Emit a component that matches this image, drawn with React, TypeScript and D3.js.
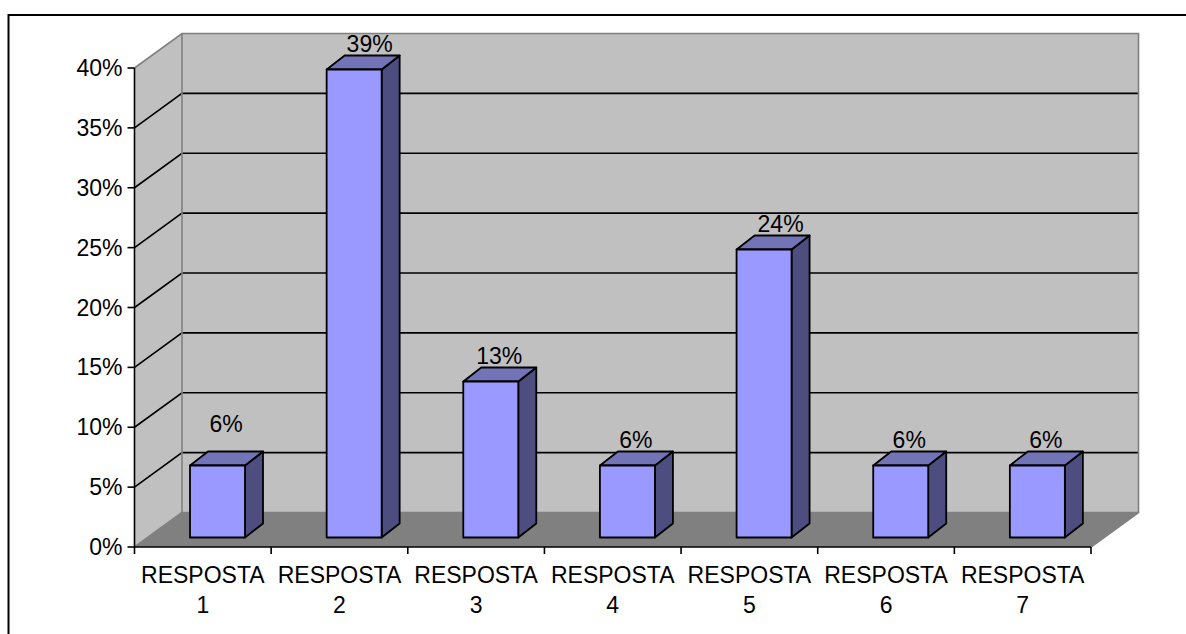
import React from "react";
import * as d3 from "d3";

const categories = ["RESPOSTA 1", "RESPOSTA 2", "RESPOSTA 3", "RESPOSTA 4", "RESPOSTA 5", "RESPOSTA 6", "RESPOSTA 7"];
const shares = [6, 39, 13, 6, 24, 6, 6];
const yTicks = [0, 5, 10, 15, 20, 25, 30, 35, 40];

const FONT = "'Liberation Sans', Arial, sans-serif";
const FONT_SIZE = 23;
const DEPTH_X = 47.5;
const DEPTH_Y = -34.5;
const BAR_DEPTH_X = 18;
const BAR_DEPTH_Y = -14;

const x = d3.scaleBand<string>().domain(categories).range([134.5, 1091]);
const y = d3.scaleLinear().domain([0, 40]).range([547, 68]);
const barH = d3.scaleLinear().domain([0, 40]).range([0, 480]);

const poly = (pts: [number, number][]) => d3.line()(pts) + "Z";

export default function App() {
  const x0 = x.range()[0];
  const x1 = x.range()[1];
  const yb = y(0);
  const yt = y(40);
  const step = x.step();
  const barW = 55;
  const barBase = 537.5;

  return (
    <svg width={1186} height={634} style={{ position: "absolute", left: 0, top: 0, background: "#fff" }} fontFamily={FONT}>
      {/* outer frame */}
      <path d={`M8.5,634V15H1186`} fill="none" stroke="#000" strokeWidth={2} />

      {/* side wall, back wall and floor */}
      <path d={poly([[x0, yb], [x0 + DEPTH_X, yb + DEPTH_Y], [x0 + DEPTH_X, yt + DEPTH_Y], [x0, yt]])} fill="#c0c0c0" />
      <path d={poly([[x0 + DEPTH_X, yb + DEPTH_Y], [x1 + DEPTH_X, yb + DEPTH_Y], [x1 + DEPTH_X, yt + DEPTH_Y], [x0 + DEPTH_X, yt + DEPTH_Y]])} fill="#c0c0c0" />
      <path d={poly([[x0, yb], [x1, yb], [x1 + DEPTH_X, yb + DEPTH_Y], [x0 + DEPTH_X, yb + DEPTH_Y]])} fill="#808080" />

      {/* gridlines */}
      {yTicks.slice(1, -1).map((t) => (
        <path key={t} d={`M${x0},${y(t)}L${x0 + DEPTH_X},${y(t) + DEPTH_Y}H${x1 + DEPTH_X}`} fill="none" stroke="#000" strokeWidth={1.6} />
      ))}

      {/* wall edges */}
      <path d={`M${x0},${yt}L${x0 + DEPTH_X},${yt + DEPTH_Y}H${x1 + DEPTH_X}V${yb + DEPTH_Y}L${x1},${yb}`} fill="none" stroke="#808080" strokeWidth={1.6} />
      <path d={`M${x0},${yb}L${x0 + DEPTH_X},${yb + DEPTH_Y}V${yt + DEPTH_Y}M${x0 + DEPTH_X},${yb + DEPTH_Y}H${x1 + DEPTH_X}`} fill="none" stroke="#808080" strokeWidth={1.6} />

      {/* axes */}
      <path d={`M${x0},${yt}V${yb}H${x1}`} fill="none" stroke="#000" strokeWidth={1.6} />
      {yTicks.map((t) => (
        <g key={t}>
          <line x1={x0 - 7} x2={x0} y1={y(t)} y2={y(t)} stroke="#000" strokeWidth={1.6} />
          <text x={x0 - 12} y={y(t) + 8} textAnchor="end" fontSize={FONT_SIZE} fill="#000">{t}%</text>
        </g>
      ))}
      {d3.range(categories.length + 1).map((i) => (
        <line key={i} x1={x0 + i * step} x2={x0 + i * step} y1={yb} y2={yb + 7} stroke="#000" strokeWidth={1.6} />
      ))}

      {/* bars */}
      {categories.map((c, i) => {
        const bx = (x(c) as number) + 55.5;
        const h = barH(shares[i]);
        const top = barBase - h;
        const dx = BAR_DEPTH_X;
        const dy = BAR_DEPTH_Y;
        return (
          <g key={c} stroke="#000" strokeWidth={1.8} strokeLinejoin="round">
            <path d={poly([[bx + barW, top], [bx + barW + dx, top + dy], [bx + barW + dx, barBase + dy], [bx + barW, barBase]])} fill="#4d4d80" />
            <path d={poly([[bx, top], [bx + dx, top + dy], [bx + barW + dx, top + dy], [bx + barW, top]])} fill="#7373b8" />
            <rect x={bx} y={top} width={barW} height={h} fill="#9999ff" />
          </g>
        );
      })}

      {/* value labels: the tallest bars have theirs pushed right, the first one sits higher */}
      {categories.map((c, i) => {
        const shift = shares[i] === 39 ? 7 : shares[i] === 24 ? 8 : 0;
        const cx = (x(c) as number) + 91.5 + shift;
        const top = barBase - barH(shares[i]);
        const raised = i === 0 ? 33.5 : 18;
        return (
          <text key={c} x={cx} y={top - raised} textAnchor="middle" fontSize={FONT_SIZE} fill="#000">{shares[i]}%</text>
        );
      })}

      {/* category labels */}
      {categories.map((c) => {
        const [a, b] = c.split(" ");
        const cx = (x(c) as number) + step / 2;
        return (
          <text key={c} textAnchor="middle" fontSize={FONT_SIZE} fill="#000">
            <tspan x={cx} y={583}>{a}</tspan>
            <tspan x={cx} y={613}>{b}</tspan>
          </text>
        );
      })}
    </svg>
  );
}
